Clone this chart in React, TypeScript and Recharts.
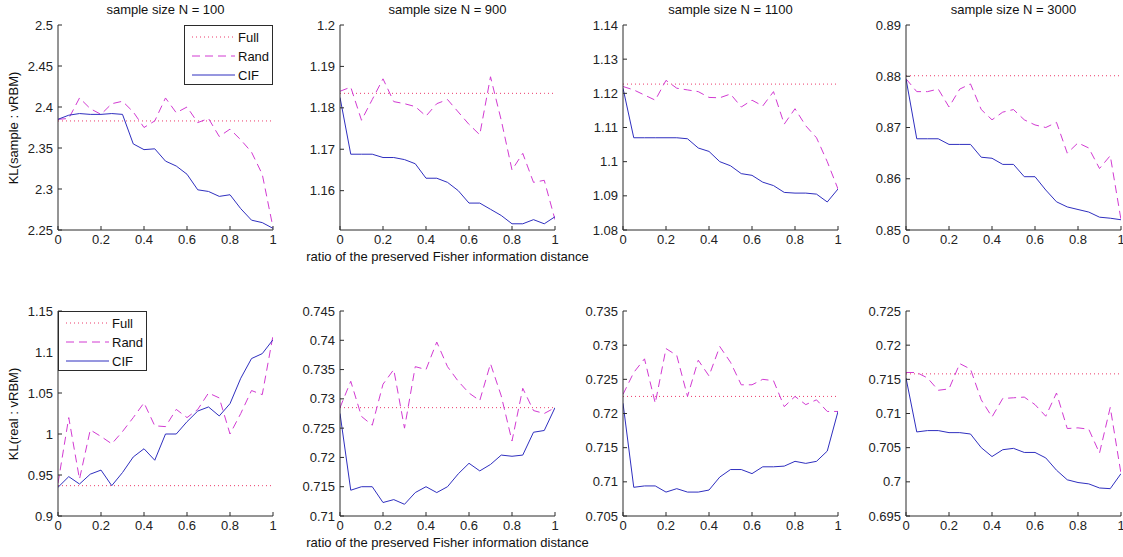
import { LineChart, Line, XAxis, YAxis } from "recharts";

// ── data ─────────────────────────────────────────────────────────────────────

const ratio = [0, 0.05, 0.1, 0.15, 0.2, 0.25, 0.3, 0.35, 0.4, 0.45, 0.5, 0.55, 0.6, 0.65, 0.7, 0.75, 0.8, 0.85, 0.9, 0.95, 1];
const xTicks = [0, 0.2, 0.4, 0.6, 0.8, 1];
const sizeTitles = ["sample size N = 100", "sample size N = 900", "sample size N = 1100", "sample size N = 3000"];
const seriesNames = ["Full", "Rand", "CIF"];

// KL(sample : vRBM)
const fullSample = [2.383, 1.1835, 1.1227, 0.8801];
const randSample100 = [2.385, 2.386, 2.411, 2.398, 2.391, 2.404, 2.407, 2.394, 2.375, 2.383, 2.411, 2.393, 2.4, 2.381, 2.386, 2.364, 2.373, 2.36, 2.345, 2.318, 2.253];
const cifSample100 = [2.385, 2.39, 2.392, 2.391, 2.391, 2.392, 2.391, 2.355, 2.348, 2.349, 2.334, 2.328, 2.318, 2.299, 2.297, 2.291, 2.293, 2.276, 2.262, 2.259, 2.252];
const randSample900 = [1.184, 1.185, 1.177, 1.182, 1.187, 1.1815, 1.181, 1.1803, 1.178, 1.181, 1.182, 1.179, 1.176, 1.1735, 1.1875, 1.177, 1.165, 1.169, 1.162, 1.1625, 1.153];
const cifSample900 = [1.1825, 1.1688, 1.1688, 1.1688, 1.168, 1.168, 1.1675, 1.1665, 1.163, 1.163, 1.162, 1.16, 1.157, 1.157, 1.1555, 1.154, 1.152, 1.152, 1.153, 1.152, 1.1537];
const randSample1100 = [1.122, 1.121, 1.1195, 1.118, 1.1238, 1.1215, 1.121, 1.1205, 1.1188, 1.1187, 1.1198, 1.116, 1.118, 1.1163, 1.1205, 1.111, 1.1155, 1.1105, 1.107, 1.1, 1.092];
const cifSample1100 = [1.1215, 1.107, 1.107, 1.107, 1.107, 1.107, 1.1067, 1.104, 1.103, 1.1, 1.0988, 1.0965, 1.096, 1.094, 1.093, 1.091, 1.0908, 1.0908, 1.0905, 1.0882, 1.092];
const randSample3000 = [0.8795, 0.877, 0.877, 0.8775, 0.874, 0.8775, 0.8785, 0.8735, 0.8715, 0.873, 0.8735, 0.8715, 0.8705, 0.87, 0.871, 0.865, 0.867, 0.866, 0.862, 0.8645, 0.852];
const cifSample3000 = [0.8795, 0.8678, 0.8678, 0.8678, 0.8667, 0.8667, 0.8667, 0.8642, 0.864, 0.8628, 0.8628, 0.8604, 0.8604, 0.8578, 0.8555, 0.8545, 0.854, 0.8535, 0.8525, 0.8523, 0.852];

// KL(real : vRBM)
const fullReal = [0.937, 0.7285, 0.7225, 0.7158];
const randReal100 = [0.94, 1.02, 0.945, 1.005, 0.997, 0.988, 1.003, 1.02, 1.038, 1.01, 1.009, 1.03, 1.02, 1.03, 1.05, 1.044, 1.0, 1.025, 1.053, 1.048, 1.12];
const cifReal100 = [0.935, 0.948, 0.939, 0.951, 0.956, 0.937, 0.953, 0.972, 0.982, 0.968, 1.0, 1.0, 1.015, 1.028, 1.033, 1.022, 1.037, 1.068, 1.092, 1.098, 1.115];
const randReal900 = [0.7285, 0.733, 0.727, 0.7255, 0.7325, 0.735, 0.725, 0.7355, 0.735, 0.7397, 0.7355, 0.733, 0.731, 0.7297, 0.736, 0.7305, 0.7228, 0.7318, 0.728, 0.7275, 0.7285];
const cifReal900 = [0.7275, 0.7144, 0.715, 0.715, 0.7123, 0.7128, 0.712, 0.714, 0.715, 0.714, 0.715, 0.7172, 0.719, 0.7177, 0.7188, 0.7204, 0.7202, 0.7204, 0.7243, 0.7246, 0.7285];
const randReal1100 = [0.7228, 0.726, 0.728, 0.7215, 0.7295, 0.7285, 0.7225, 0.7278, 0.7255, 0.7298, 0.7275, 0.7242, 0.7242, 0.725, 0.7248, 0.721, 0.7225, 0.7213, 0.722, 0.7203, 0.7203];
const cifReal1100 = [0.7215, 0.7092, 0.7094, 0.7094, 0.7085, 0.709, 0.7085, 0.7085, 0.7088, 0.7107, 0.7118, 0.7118, 0.7112, 0.7122, 0.7122, 0.7123, 0.713, 0.7127, 0.713, 0.7145, 0.7203];
const randReal3000 = [0.716, 0.716, 0.7152, 0.7134, 0.7136, 0.7173, 0.7165, 0.712, 0.7095, 0.7122, 0.7123, 0.7124, 0.7113, 0.7096, 0.713, 0.7078, 0.7079, 0.7077, 0.7042, 0.7109, 0.7012];
const cifReal3000 = [0.7152, 0.7073, 0.7075, 0.7075, 0.7072, 0.7072, 0.707, 0.705, 0.7037, 0.7047, 0.7049, 0.7043, 0.7043, 0.7035, 0.7017, 0.7003, 0.6999, 0.6997, 0.6991, 0.699, 0.7012];

// y tick labels per panel
const yTicksSample = [
  [2.25, 2.3, 2.35, 2.4, 2.45, 2.5],
  [1.16, 1.17, 1.18, 1.19, 1.2],
  [1.08, 1.09, 1.1, 1.11, 1.12, 1.13, 1.14],
  [0.85, 0.86, 0.87, 0.88, 0.89],
];
const yTicksReal = [
  [0.9, 0.95, 1, 1.05, 1.1, 1.15],
  [0.71, 0.715, 0.72, 0.725, 0.73, 0.735, 0.74, 0.745],
  [0.705, 0.71, 0.715, 0.72, 0.725, 0.73, 0.735],
  [0.695, 0.7, 0.705, 0.71, 0.715, 0.72, 0.725],
];
const yDomainSample: [number, number][] = [[2.25, 2.5], [1.1505, 1.2], [1.08, 1.14], [0.85, 0.89]];
const yDomainReal: [number, number][] = [[0.9, 1.15], [0.71, 0.745], [0.705, 0.735], [0.695, 0.725]];

// ── style ────────────────────────────────────────────────────────────────────

const FONT = '"Liberation Sans", Arial, Helvetica, sans-serif';
const AXIS = "#2b2b2b";
const C_FULL = "#ec3a6a";
const C_RAND = "#d23ad2";
const C_CIF = "#2f2fbf";
const DASH_FULL = "1 3";
const DASH_RAND = "8 5";

const PLOT_W = 215;
const PLOT_H = 205;
const COL_X = [58, 340, 623, 906];
const ROW_Y = [25, 311];
const M_LEFT = 50;
const M_TOP = 10;
const M_RIGHT = 10;
const X_AX_H = 26;

const tickStyle = { fontSize: 13, fill: "#222", fontFamily: FONT };

function KLPanel({
  full,
  rand,
  cif,
  yTicks,
  yDomain,
}: {
  full: number;
  rand: number[];
  cif: number[];
  yTicks: number[];
  yDomain: [number, number];
}) {
  const data = ratio.map((r, i) => ({ r, full, rand: rand[i], cif: cif[i] }));
  return (
    <LineChart
      width={M_LEFT + PLOT_W + M_RIGHT}
      height={M_TOP + PLOT_H + X_AX_H}
      data={data}
      margin={{ top: M_TOP, right: M_RIGHT, left: 0, bottom: 0 }}
    >
      <XAxis
        dataKey="r"
        type="number"
        domain={[0, 1]}
        ticks={xTicks}
        allowDataOverflow
        height={X_AX_H}
        tickSize={-4}
        tickMargin={9}
        tick={tickStyle}
        stroke={AXIS}
        interval={0}
      />
      <XAxis
        xAxisId="top"
        orientation="top"
        dataKey="r"
        type="number"
        domain={[0, 1]}
        ticks={xTicks}
        height={0}
        tickSize={-4}
        tick={false}
        stroke={AXIS}
      />
      <YAxis
        type="number"
        domain={yDomain}
        ticks={yTicks}
        allowDataOverflow
        width={M_LEFT}
        tickSize={-4}
        tickMargin={9}
        tick={tickStyle}
        stroke={AXIS}
        interval={0}
        tickFormatter={(v) => String(v)}
      />
      <YAxis
        yAxisId="right"
        orientation="right"
        type="number"
        domain={yDomain}
        ticks={yTicks}
        allowDataOverflow
        width={0}
        tickSize={-4}
        tick={false}
        stroke={AXIS}
      />
      <Line dataKey="full" stroke={C_FULL} strokeWidth={1} strokeDasharray={DASH_FULL} dot={false} isAnimationActive={false} />
      <Line dataKey="rand" stroke={C_RAND} strokeWidth={1} strokeDasharray={DASH_RAND} dot={false} isAnimationActive={false} />
      <Line dataKey="cif" stroke={C_CIF} strokeWidth={1} dot={false} isAnimationActive={false} />
    </LineChart>
  );
}

function LegendBox({ left, top }: { left: number; top: number }) {
  const styles = [
    { color: C_FULL, dash: DASH_FULL },
    { color: C_RAND, dash: DASH_RAND },
    { color: C_CIF, dash: undefined },
  ];
  return (
    <div
      style={{
        position: "absolute",
        left,
        top,
        width: 89,
        height: 60,
        border: `1px solid ${AXIS}`,
        background: "#fff",
        boxSizing: "border-box",
      }}
    >
      {seriesNames.map((name, i) => (
        <div
          key={name}
          style={{ position: "absolute", left: 4, top: 3 + i * 19, height: 16, display: "flex", alignItems: "center" }}
        >
          <svg width={46} height={16}>
            <line x1={3} x2={46} y1={8} y2={8} stroke={styles[i].color} strokeWidth={1} strokeDasharray={styles[i].dash} />
          </svg>
          <span style={{ fontFamily: FONT, fontSize: 13, color: "#111", marginLeft: 3 }}>{name}</span>
        </div>
      ))}
    </div>
  );
}

const rotLabel = (text: string, cy: number) => (
  <div
    style={{
      position: "absolute",
      left: 13,
      top: cy,
      transform: "translate(-50%, -50%) rotate(-90deg)",
      fontFamily: FONT,
      fontSize: 13,
      color: "#111",
      whiteSpace: "nowrap",
    }}
  >
    {text}
  </div>
);

export default function App() {
  const sampleRand = [randSample100, randSample900, randSample1100, randSample3000];
  const sampleCif = [cifSample100, cifSample900, cifSample1100, cifSample3000];
  const realRand = [randReal100, randReal900, randReal1100, randReal3000];
  const realCif = [cifReal100, cifReal900, cifReal1100, cifReal3000];
  const xLabel = "ratio of the preserved Fisher information distance";

  return (
    <div style={{ position: "absolute", left: 0, top: 0, width: 1123, height: 557, background: "#fff", fontFamily: FONT }}>
      {COL_X.map((x, c) => (
        <div key={`s${c}`}>
          <div
            style={{
              position: "absolute",
              left: x,
              width: PLOT_W,
              top: 2,
              textAlign: "center",
              fontSize: 13,
              color: "#111",
              whiteSpace: "nowrap",
            }}
          >
            {sizeTitles[c]}
          </div>
          <div style={{ position: "absolute", left: x - M_LEFT, top: ROW_Y[0] - M_TOP }}>
            <KLPanel full={fullSample[c]} rand={sampleRand[c]} cif={sampleCif[c]} yTicks={yTicksSample[c]} yDomain={yDomainSample[c]} />
          </div>
          <div style={{ position: "absolute", left: x - M_LEFT, top: ROW_Y[1] - M_TOP }}>
            <KLPanel full={fullReal[c]} rand={realRand[c]} cif={realCif[c]} yTicks={yTicksReal[c]} yDomain={yDomainReal[c]} />
          </div>
        </div>
      ))}

      {rotLabel("KL(sample : vRBM)", ROW_Y[0] + PLOT_H / 2)}
      {rotLabel("KL(real : vRBM)", ROW_Y[1] + PLOT_H / 2)}

      {ROW_Y.map((y, r) => (
        <div
          key={`xl${r}`}
          style={{
            position: "absolute",
            left: COL_X[1] - 100,
            width: PLOT_W + 200,
            top: y + PLOT_H + 19,
            textAlign: "center",
            fontSize: 13,
            color: "#111",
            whiteSpace: "nowrap",
          }}
        >
          {xLabel}
        </div>
      ))}

      <LegendBox left={COL_X[0] + PLOT_W - 89} top={ROW_Y[0]} />
      <LegendBox left={COL_X[0]} top={ROW_Y[1]} />
    </div>
  );
}
